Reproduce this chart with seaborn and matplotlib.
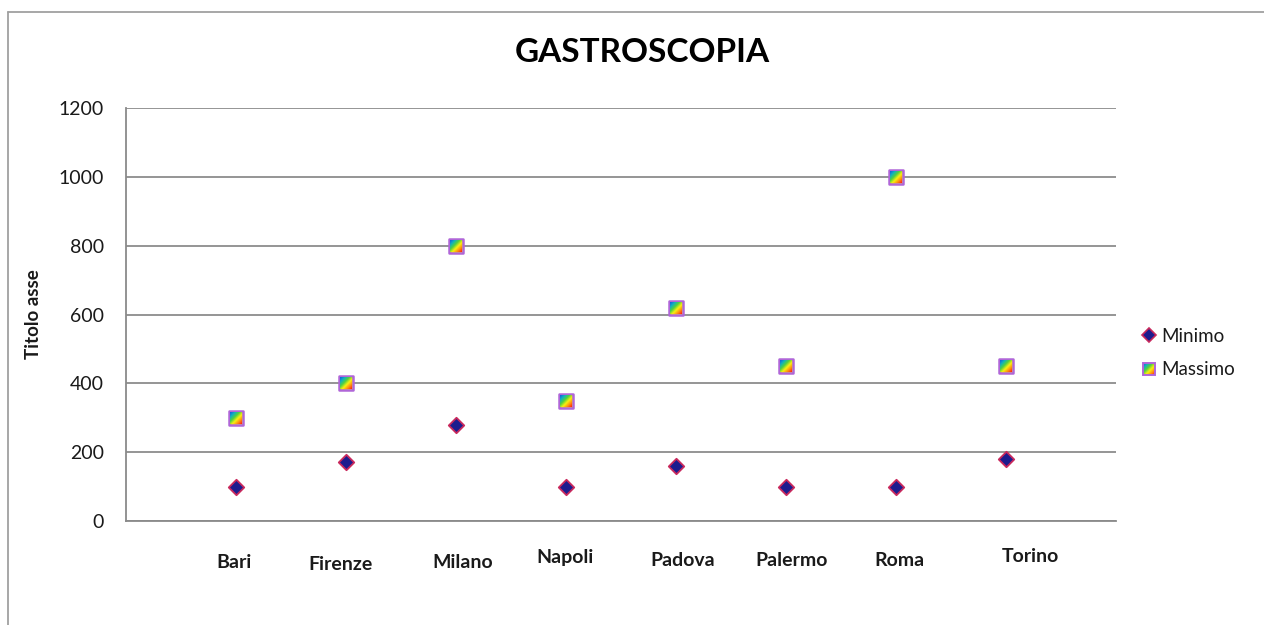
import numpy as np
import pandas as pd
import seaborn as sns
import matplotlib
matplotlib.use("Agg")
import matplotlib.pyplot as plt
from matplotlib.lines import Line2D
from matplotlib.patches import Rectangle
from matplotlib.colors import LinearSegmentedColormap
from matplotlib.offsetbox import OffsetImage, AnnotationBbox
from matplotlib.legend_handler import HandlerBase
from matplotlib.image import BboxImage
from matplotlib.transforms import Bbox, TransformedBbox

# --- data ---------------------------------------------------------------
cities = ["Bari", "Firenze", "Milano", "Napoli", "Padova", "Palermo", "Roma", "Torino"]
minimo = [100, 170, 280, 100, 160, 100, 100, 180]
massimo = [300, 400, 800, 350, 620, 450, 1000, 450]
y_ticks = [0, 200, 400, 600, 800, 1000, 1200]

df = pd.DataFrame({"pos": np.arange(1, len(cities) + 1),
                   "Minimo": minimo, "Massimo": massimo})

# --- style --------------------------------------------------------------
sns.set_theme(style="white")
plt.rcParams["font.family"] = ["Lato", "DejaVu Sans"]

NAVY = "#1c1c8e"
CRIMSON = "#c8285c"
VIOLET = "#b066d8"
GRID = "#8c8c8c"
rainbow = LinearSegmentedColormap.from_list(
    "rainbow_fill", ["#1060e0", "#10b0c0", "#50d040", "#f8f010", "#ff9010", "#ff2010"])

# diagonal gradient used to fill the square markers
n = 24
ii, jj = np.meshgrid(np.arange(n), np.arange(n))
grad_rgb = rainbow((ii + jj) / (2 * (n - 1)))[..., :3]

fig = plt.figure(figsize=(12.64, 6.25), dpi=100)
ax = fig.add_axes([126 / 1264, 104 / 625, (1116 - 126) / 1264, (521 - 108) / 625])

# Minimo: navy diamonds
sns.scatterplot(data=df, x="pos", y="Minimo", marker="D", s=62, color=NAVY,
                edgecolor=CRIMSON, linewidth=1.3, ax=ax, zorder=4, legend=False)

# Massimo: squares with violet outline and rainbow gradient fill
sns.scatterplot(data=df, x="pos", y="Massimo", marker="s", s=106, color="#f8f010",
                edgecolor=VIOLET, linewidth=1.8, ax=ax, zorder=3, legend=False)
for xp, yv in zip(df["pos"], df["Massimo"]):
    img = OffsetImage(grad_rgb, zoom=12 / n, dpi_cor=False, interpolation="bilinear")
    ab = AnnotationBbox(img, (xp, yv), frameon=False, pad=0, zorder=5,
                        box_alignment=(0.5, 0.5))
    ax.add_artist(ab)

# axes cosmetics
ax.set_xlim(0, 9)
ax.set_ylim(0, 1200)
ax.set_yticks(y_ticks)
ax.set_yticklabels([str(v) for v in y_ticks], fontsize=14, color="#1a1a1a")
ax.tick_params(axis="y", length=0, pad=16)
ax.set_xticks([])
ax.set_xlabel("")
ax.set_ylabel("Titolo asse", fontsize=13.5, fontweight="bold", color="#1a1a1a")
ax.yaxis.set_label_coords(-84 / 990, 0.5)
ax.grid(axis="y", color=GRID, linewidth=1.3)
ax.set_axisbelow(True)
for side in ["top", "right"]:
    ax.spines[side].set_visible(False)
for side in ["left", "bottom"]:
    ax.spines[side].set_color("#8a8a8a")
    ax.spines[side].set_linewidth(1.3)

# category labels under the axis (individually placed)
label_dx = [-0.02, -0.05, 0.06, -0.01, 0.06, 0.05, 0.03, 0.22]
label_y = [563, 565, 563, 557, 561, 561, 561, 557]
for xp, name, dx, py in zip(df["pos"], cities, label_dx, label_y):
    ax.text(xp + dx, 1 - (py - 108) / (521 - 108), name,
            transform=ax.get_xaxis_transform(), ha="center", va="center",
            fontsize=14, fontweight="bold", color="#1a1a1a")

# title
fig.text(642 / 1264, 1 - 52 / 625, "GASTROSCOPIA", ha="center", va="center",
         fontsize=24, fontweight="bold", color="#000000")


# legend with a gradient-filled square handle
class GradientSquareHandler(HandlerBase):
    def create_artists(self, legend, orig_handle, xdescent, ydescent,
                       width, height, fontsize, trans):
        side = 8.5
        cx = width / 2 - xdescent
        cy = height / 2 - ydescent
        bb = Bbox.from_bounds(cx - side / 2, cy - side / 2, side, side)
        im = BboxImage(TransformedBbox(bb, trans), interpolation="bilinear")
        im.set_data(grad_rgb)
        frame = Rectangle((cx - side / 2, cy - side / 2), side, side,
                          facecolor="none", edgecolor=VIOLET, linewidth=1.4,
                          transform=trans)
        return [im, frame]


h_min = Line2D([], [], linestyle="none", marker="D", markersize=7,
               markerfacecolor=NAVY, markeredgecolor=CRIMSON, markeredgewidth=1.2)
h_max = Rectangle((0, 0), 1, 1)
leg = fig.legend([h_min, h_max], ["Minimo", "Massimo"],
                 handler_map={Rectangle: GradientSquareHandler()},
                 loc="center left", bbox_to_anchor=(1129 / 1264, 1 - 353 / 625),
                 frameon=False, fontsize=13.5, handlelength=0.7, handletextpad=0.3,
                 labelspacing=0.9, borderpad=0.2)
for t in leg.get_texts():
    t.set_color("#1a1a1a")

# outer chart frame
border = dict(color="#a0a0a0", linewidth=1.3, transform=fig.transFigure)
fig.add_artist(Line2D([8 / 1264, 8 / 1264], [0, 1 - 12 / 625], **border))
fig.add_artist(Line2D([8 / 1264, 1.0], [1 - 12 / 625, 1 - 12 / 625], **border))

fig.savefig("out.png", dpi=100, facecolor="white")
